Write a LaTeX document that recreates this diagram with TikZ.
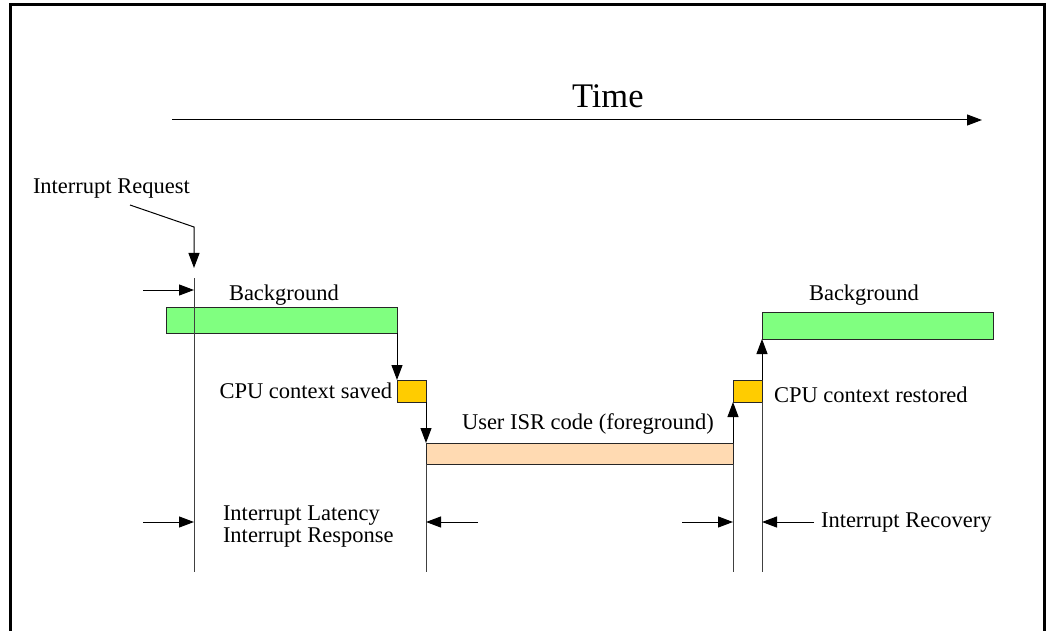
\documentclass[tikz,border=0pt]{standalone}
\usepackage{fontspec}
\setmainfont{Liberation Serif}
\usetikzlibrary{arrows.meta}
\definecolor{bggreen}{RGB}{128,255,128}
\definecolor{ctxyellow}{RGB}{255,204,0}
\definecolor{isrpeach}{RGB}{255,218,178}
\begin{document}
\begin{tikzpicture}[x=1pt,y=-1pt,
  lbl/.style={inner sep=0pt, outer sep=0pt, font=\fontsize{22.5}{22}\selectfont},
  bigl/.style={inner sep=0pt, outer sep=0pt, font=\fontsize{34.5}{34}\selectfont},
  bar/.style={draw=black!85, line width=0.9pt, anchor=north west, inner sep=0pt, outer sep=0pt},
  arr/.style={line width=1pt, -{Triangle[length=15pt,width=11pt]}},
  guide/.style={line width=0.9pt, black!75},
  frame/.style={line width=3pt}]
\useasboundingbox (0,0) rectangle (1047,631);

% outer frame (open at the bottom)
\draw[frame] (10,640) -- (10,5) -- (1044.5,5) -- (1044.5,640);

% time axis
\node[bigl, anchor=base west] (time) at (572,108) {Time};
\coordinate (t0) at (172,120);
\coordinate (t1) at (982,120);
\draw[arr] (t0) -- (t1);

% phases
\node[bar, fill=bggreen, minimum width=231pt, minimum height=26pt] (bg1) at (166,307) {};
\node[bar, fill=ctxyellow, minimum width=29pt, minimum height=22pt] (ctx1) at (397,380) {};
\node[bar, fill=isrpeach, minimum width=307pt, minimum height=21pt] (isr) at (426,443) {};
\node[bar, fill=ctxyellow, minimum width=29pt, minimum height=22pt] (ctx2) at (733,380) {};
\node[bar, fill=bggreen, minimum width=231pt, minimum height=27pt] (bg2) at (762,312) {};

% labels
\node[lbl, anchor=base west] (req) at (33,194) {Interrupt Request};
\node[lbl, anchor=base west] (bgl1) at (229,300) {Background};
\node[lbl, anchor=base west] (bgl2) at (809,300) {Background};
\node[lbl, anchor=base east] (savl) at (392,398) {CPU context saved};
\node[lbl, anchor=base west] (resl) at (774,402) {CPU context restored};
\node[lbl, anchor=base west] (isrl) at (462,429) {User ISR code (foreground)};
\node[lbl, anchor=base west, align=left] (latl) at (223,542) {Interrupt Latency\\Interrupt Response};
\node[lbl, anchor=base west] (recl) at (821,527) {Interrupt Recovery};

% transitions between phases
\draw[arr] (bg1.south east) -- (ctx1.north west);
\draw[arr] (ctx1.south east) -- (isr.north west);
\draw[arr] (isr.north east) -- (ctx2.south west);
\draw[arr] (ctx2.north east) -- (bg2.south west);

% interrupt request pointer
\coordinate (rq0) at (130,205);
\coordinate (rq1) at (194,227);
\coordinate (rq2) at (194,268);
\draw[arr] (rq0) -- (rq1) -- (rq2);

% guide lines
\coordinate (g0a) at (194,278);
\coordinate (g0b) at (194,572);
\coordinate (g1b) at (426,572);
\coordinate (g2b) at (733,572);
\coordinate (g3b) at (762,572);
\draw[guide] (g0a) -- (g0b);
\draw[guide] (isr.south west) -- (g1b);
\draw[guide] (isr.south east) -- (g2b);
\draw[guide] (ctx2.south east) -- (g3b);

% interval markers
\coordinate (m0) at (143,290);  \coordinate (m0t) at (194,290);
\coordinate (m1) at (143,522);  \coordinate (m1t) at (194,522);
\coordinate (m2) at (478,522);  \coordinate (m2t) at (426,522);
\coordinate (m3) at (682,522);  \coordinate (m3t) at (733,522);
\coordinate (m4) at (814,522);  \coordinate (m4t) at (762,522);
\draw[arr] (m0) -- (m0t);
\draw[arr] (m1) -- (m1t);
\draw[arr] (m2) -- (m2t);
\draw[arr] (m3) -- (m3t);
\draw[arr] (m4) -- (m4t);
\end{tikzpicture}
\end{document}
